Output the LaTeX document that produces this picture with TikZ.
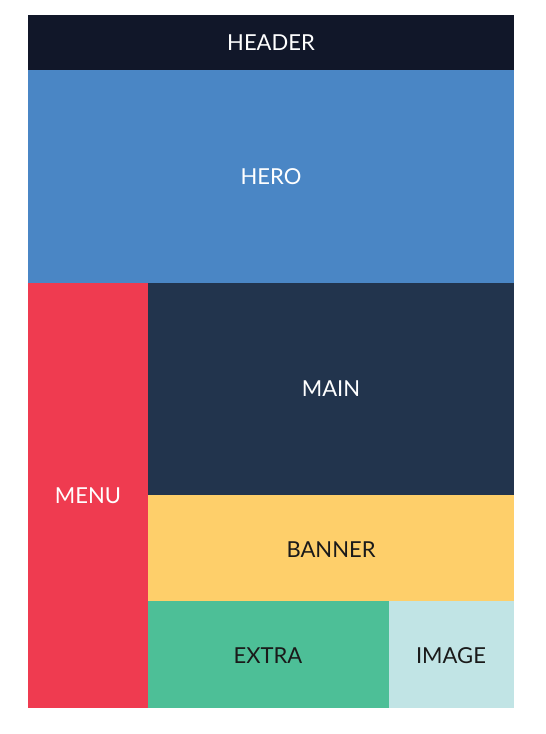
\documentclass[tikz,border=0pt]{standalone}
\usepackage{fontspec}
\setmainfont{Lato}
\definecolor{cheader}{HTML}{111729}
\definecolor{chero}{HTML}{4A86C5}
\definecolor{cmenu}{HTML}{EF3B50}
\definecolor{cmain}{HTML}{22344D}
\definecolor{cbanner}{HTML}{FECF6A}
\definecolor{cextra}{HTML}{4DBF97}
\definecolor{cimage}{HTML}{C1E4E5}
\definecolor{cdark}{HTML}{1A1A1A}
\tikzset{
  area/.style={inner sep=0pt, outer sep=0pt, draw=none},
  lbl/.style={font=\fontsize{22}{26}\selectfont},
}
\begin{document}
\begin{tikzpicture}[x=1pt,y=-1pt]
\useasboundingbox (0,0) rectangle (546,734);
\fill[white] (0,0) rectangle (546,734);
\fill[cheader] (28,15) rectangle (514,70) coordinate (hdrc);
\fill[chero] (28,70) rectangle (514,283);
\fill[cmenu] (28,283) rectangle (148,708);
\fill[cmain] (148,283) rectangle (514,495);
\fill[cbanner] (148,495) rectangle (514,601);
\fill[cextra] (148,601) rectangle (389,708);
\fill[cimage] (389,601) rectangle (514,708);
\node[lbl, text=white] (header) at (271,43) {HEADER};
\node[lbl, text=white] (hero) at (271,177) {HERO};
\node[lbl, text=white] (menu) at (88,496) {MENU};
\node[lbl, text=white] (main) at (331,389) {MAIN};
\node[lbl, text=cdark] (banner) at (331,550) {BANNER};
\node[lbl, text=cdark] (extra) at (268,656) {EXTRA};
\node[lbl, text=cdark] (image) at (451,656) {IMAGE};
\end{tikzpicture}
\end{document}
